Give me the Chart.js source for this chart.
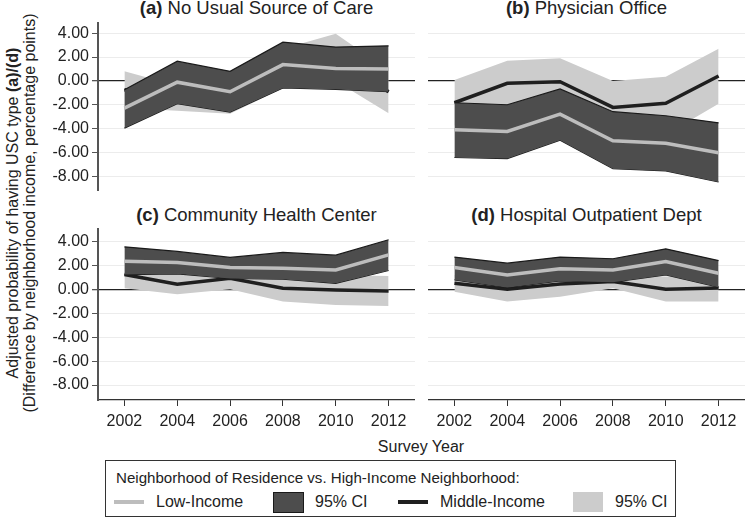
<!DOCTYPE html>
<html>
<head>
<meta charset="utf-8">
<script src="https://cdn.jsdelivr.net/npm/chart.js@4.4.1/dist/chart.umd.min.js"></script>
<style>
  body { margin: 0; background: #fff; font-family: "Liberation Sans", Arial, sans-serif; color: #222; }
  #wrap { position: relative; width: 747px; height: 520px; overflow: hidden; }
  canvas { position: absolute; }
  .ttl { position: absolute; text-align: center; font-size: 18.5px; line-height: 20px; white-space: nowrap; }
  .ytitle { position: absolute; left: 21px; top: 213px; width: 440px; transform: translate(-50%, -50%) rotate(-90deg);
            text-align: center; font-size: 16px; line-height: 17px; white-space: nowrap; }
  .xtitle { position: absolute; left: 321px; top: 438px; width: 200px; text-align: center; font-size: 16px; }
  .legend { position: absolute; left: 105px; top: 460px; width: 571px; height: 57px; border: 1px solid #333; box-sizing: border-box; font-size: 16px; }
  .legend span, .legend i { position: absolute; white-space: nowrap; }
</style>
</head>
<body>
<div id="wrap">
  <canvas id="pa" width="375" height="169" style="left:40px; top:22px"></canvas>
  <canvas id="pb" width="317" height="169" style="left:428px; top:22px"></canvas>
  <canvas id="pc" width="375" height="202" style="left:40px; top:228px"></canvas>
  <canvas id="pd" width="317" height="202" style="left:428px; top:228px"></canvas>

  <div class="ttl" style="left:98px; width:317px; top:-2px"><b>(a)</b> No Usual Source of Care</div>
  <div class="ttl" style="left:428px; width:317px; top:-2px"><b>(b)</b> Physician Office</div>
  <div class="ttl" style="left:98px; width:317px; top:205px"><b>(c)</b> Community Health Center</div>
  <div class="ttl" style="left:428px; width:317px; top:205px"><b>(d)</b> Hospital Outpatient Dept</div>

  <div class="ytitle">Adjusted probability of having USC type <b>(a)/(d)</b><br>(Difference by neighborhood income, percentage points)</div>
  <div class="xtitle">Survey Year</div>

  <div class="legend">
    <span style="left:10px; top:8px; font-size:15.1px">Neighborhood of Residence vs. High-Income Neighborhood:</span>
    <i style="left:8px; top:39px; width:30px; height:4px; background:#bdbdbd"></i>
    <span style="left:50px; top:32px">Low-Income</span>
    <i style="left:167px; top:31px; width:29px; height:19px; background:#4d4d4d; border:1px solid #1a1a1a"></i>
    <span style="left:209px; top:32px">95% CI</span>
    <i style="left:292px; top:39px; width:30px; height:4px; background:#1f1f1f"></i>
    <span style="left:334px; top:32px">Middle-Income</span>
    <i style="left:467px; top:31px; width:30px; height:20px; background:#cccccc"></i>
    <span style="left:509px; top:32px">95% CI</span>
  </div>
</div>

<script>
const years = [2002, 2004, 2006, 2008, 2010, 2012];
const yTicks = [-8, -6, -4, -2, 0, 2, 4];

// (a) No Usual Source of Care
const lowA = [-2.27, -0.1, -0.9, 1.37, 1.05, 1.0];
const lowUpA = [-0.73, 1.65, 0.81, 3.24, 2.83, 2.94];
const lowLoA = [-3.94, -1.9, -2.6, -0.59, -0.7, -0.9];
const midA = [-0.73, -1.45, -1.0, 1.2, 1.9, -0.9];
const midUpA = [0.81, -0.4, 0.75, 2.7, 3.94, 0.9];
const midLoA = [-2.27, -2.5, -2.75, -0.6, 0.0, -2.7];

// (b) Physician Office
const lowB = [-4.08, -4.22, -2.77, -5.0, -5.2, -6.0];
const lowUpB = [-1.82, -1.99, -0.67, -2.57, -2.91, -3.5];
const lowLoB = [-6.4, -6.49, -4.95, -7.33, -7.52, -8.45];
const midB = [-1.82, -0.2, -0.06, -2.21, -1.87, 0.42];
const midUpB = [0.08, 1.7, 1.9, 0.0, 0.36, 2.69];
const midLoB = [-3.72, -2.1, -2.0, -4.4, -4.5, -1.9];

// (c) Community Health Center
const lowC = [2.35, 2.24, 1.82, 1.76, 1.62, 2.88];
const lowUpC = [3.55, 3.16, 2.66, 3.08, 2.85, 4.14];
const lowLoC = [1.23, 1.29, 0.9, 0.84, 0.5, 1.57];
const midC = [1.23, 0.42, 0.92, 0.08, -0.06, -0.14];
const midUpC = [2.38, 1.26, 1.84, 1.19, 1.19, 1.12];
const midLoC = [0.08, -0.42, 0.0, -1.03, -1.31, -1.4];

// (d) Hospital Outpatient Dept
const lowD = [1.82, 1.2, 1.71, 1.62, 2.32, 1.34];
const lowUpD = [2.69, 2.18, 2.69, 2.55, 3.38, 2.4];
const lowLoD = [0.78, 0.14, 0.7, 0.59, 1.2, 0.17];
const midD = [0.5, 0.0, 0.45, 0.64, 0.0, 0.1];
const midUpD = [1.2, 1.03, 1.5, 1.2, 1.06, 1.2];
const midLoD = [-0.2, -1.03, -0.62, 0.08, -1.03, -1.03];

const FONT = { family: '"Liberation Sans", Arial, sans-serif', size: 16 };

function pts(arr) {
  return years.map((x, i) => ({ x: x, y: arr[i] }));
}

function line(arr, color, width, order, fill, bg) {
  return {
    data: pts(arr),
    borderColor: color,
    borderWidth: width,
    backgroundColor: bg || color,
    fill: fill || false,
    pointRadius: 0,
    tension: 0,
    order: order
  };
}

function makePanel(id, low, lowUp, lowLo, mid, midUp, midLo, left, bottom) {
  new Chart(document.getElementById(id), {
    type: 'line',
    data: {
      datasets: [
        line(low, '#bdbdbd', 3.5, 0),
        line(lowUp, '#1a1a1a', 1.2, 1, '+1', '#4d4d4d'),
        line(lowLo, '#1a1a1a', 1.2, 2),
        line(mid, '#1f1f1f', 3.5, 3),
        line(midUp, 'rgba(0,0,0,0)', 0, 4, '+1', '#cccccc'),
        line(midLo, 'rgba(0,0,0,0)', 0, 5)
      ]
    },
    options: {
      responsive: false,
      animation: false,
      layout: { padding: 0 },
      plugins: { legend: { display: false }, tooltip: { enabled: false } },
      scales: {
        x: {
          type: 'linear',
          min: 2001,
          max: 2013,
          display: bottom,
          afterBuildTicks: s => { s.ticks = years.map(v => ({ value: v })); },
          afterFit: s => {
            if (bottom) s.height = 30;
            s.paddingLeft = 0;
            s.paddingRight = 0;
          },
          ticks: { callback: v => String(v), font: FONT, color: '#222', padding: 6, maxRotation: 0 },
          grid: { drawOnChartArea: false, drawTicks: true, tickLength: 6, tickColor: '#333', color: '#333' },
          border: { display: true, color: '#333', width: 1.2 }
        },
        y: {
          type: 'linear',
          min: bottom ? -9.25 : -9.2,
          max: bottom ? 5.12 : 4.93,
          afterBuildTicks: s => { s.ticks = yTicks.map(v => ({ value: v })); },
          afterFit: s => { s.width = left ? 58 : 0; s.paddingTop = 0; s.paddingBottom = 0; },
          ticks: { display: left, callback: v => v.toFixed(2), font: FONT, color: '#222', padding: 3 },
          grid: {
            color: c => (c.tick && c.tick.value === 0 ? '#222' : '#ececec'),
            lineWidth: c => (c.tick && c.tick.value === 0 ? 1.3 : 1),
            drawTicks: left,
            tickLength: 6,
            tickColor: '#555'
          },
          border: { display: left, color: '#555', width: 2 }
        }
      }
    }
  });
}

makePanel('pa', lowA, lowUpA, lowLoA, midA, midUpA, midLoA, true, false);
makePanel('pb', lowB, lowUpB, lowLoB, midB, midUpB, midLoB, false, false);
makePanel('pc', lowC, lowUpC, lowLoC, midC, midUpC, midLoC, true, true);
makePanel('pd', lowD, lowUpD, lowLoD, midD, midUpD, midLoD, false, true);
</script>
</body>
</html>
